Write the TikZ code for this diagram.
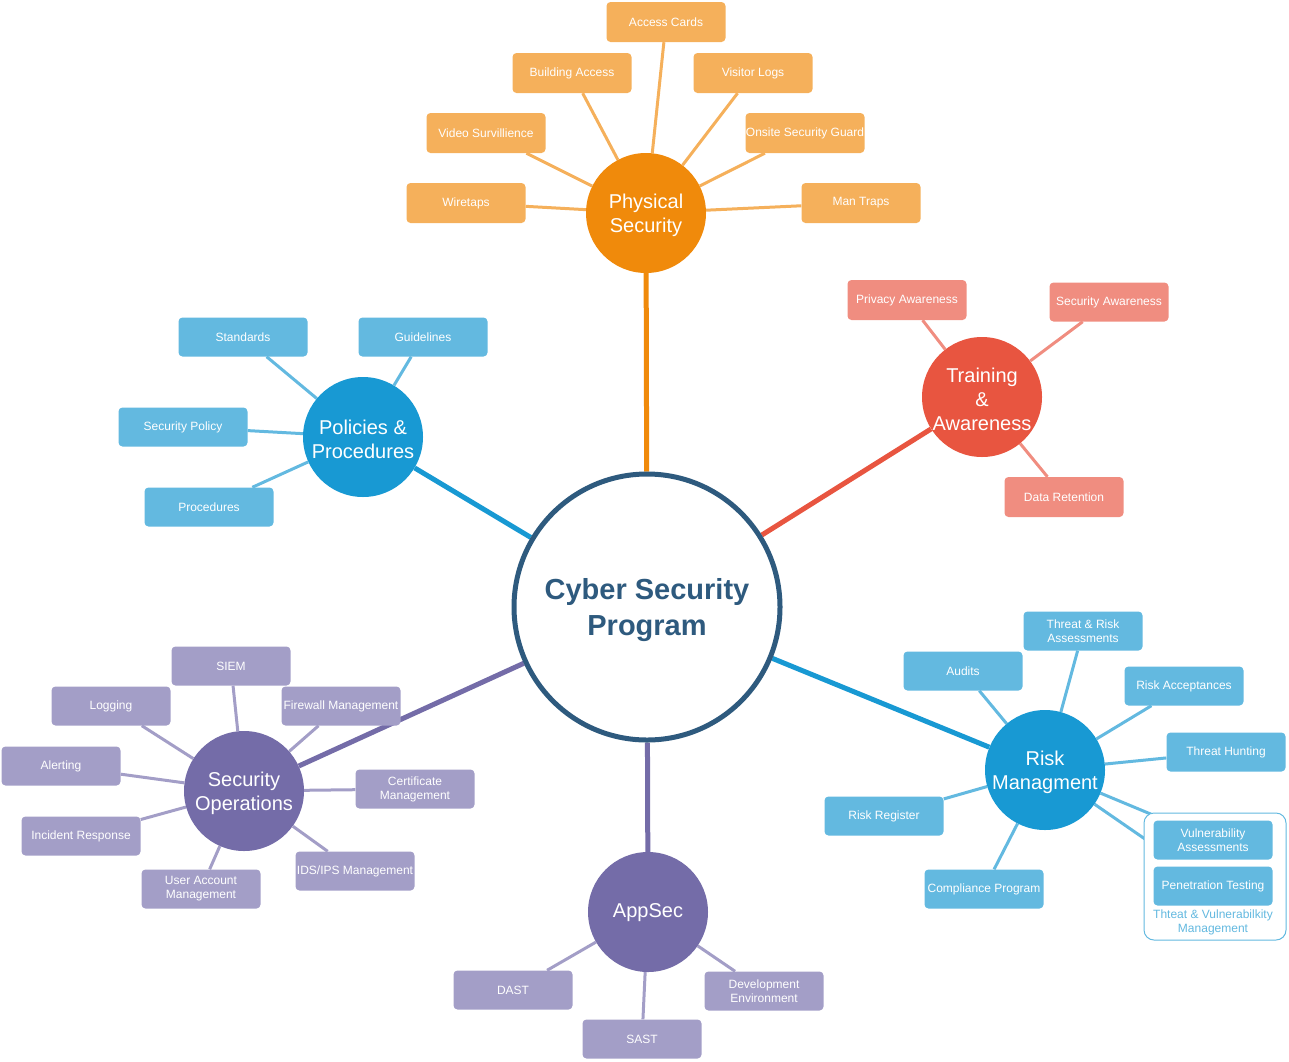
\documentclass[tikz,border=0pt]{standalone}
\usepackage{fontspec}
\setmainfont{Liberation Sans}
\usetikzlibrary{backgrounds}
\definecolor{orangeD}{HTML}{F08A0B}
\definecolor{orangeL}{HTML}{F5B05B}
\definecolor{blueD}{HTML}{1899D3}
\definecolor{blueL}{HTML}{63B9E0}
\definecolor{redD}{HTML}{E85540}
\definecolor{redL}{HTML}{F08D80}
\definecolor{purpleD}{HTML}{746CA8}
\definecolor{purpleL}{HTML}{A39EC7}
\definecolor{navy}{HTML}{2E5A7E}
\begin{document}
\begin{tikzpicture}[x=1pt,y=-1pt,
  hub/.style={circle, minimum size=120pt, inner sep=0pt},
  hubtext/.style={inner sep=0pt, text=white, align=center, font=\fontsize{20}{24}\selectfont},
  subbox/.style={rounded corners=4pt, minimum width=119pt, minimum height=39pt, inner sep=0pt,
    text=white, align=center, font=\fontsize{12}{14}\selectfont},
  mainline/.style={line width=5pt},
  subline/.style={line width=3pt},
  centernode/.style={circle, draw=navy, line width=5pt, fill=white, minimum size=266pt, inner sep=0pt},
  centertext/.style={inner sep=0pt, text=navy, align=center, font=\fontsize{29}{36}\selectfont\bfseries}
]
\useasboundingbox (0,0) rectangle (1289,1061);

% center
\node[centernode] (csp) at (647,607) {};
\node[centertext] (cspT) at (647,610) {Cyber Security\\Program};

% hubs
\node[hub, fill=orangeD] (phys) at (646,213) {};
\node[hub, fill=blueD] (pol) at (363,437) {};
\node[hub, fill=redD] (train) at (982,397) {};
\node[hub, fill=blueD] (risk) at (1045,770) {};
\node[hub, fill=purpleD] (secops) at (244,791) {};
\node[hub, fill=purpleD] (appsec) at (648,912) {};
\node[hubtext] (physT) at (646,215.5) {Physical\\Security};
\node[hubtext] (polT) at (363,439.5) {Policies \&\\Procedures};
\node[hubtext] (trainT) at (982,399) {Training\\\&\\Awareness};
\node[hubtext] (riskT) at (1045,772.5) {Risk\\Managment};
\node[hubtext] (secopsT) at (244,793.5) {Security\\Operations};
\node[hubtext] (appsecT) at (648,913) {AppSec};

% physical security boxes
\node[subbox, fill=orangeL, minimum height=40pt] (acc) at (666,22) {Access Cards};
\node[subbox, fill=orangeL, minimum height=40pt] (bld) at (572,73) {Building Access};
\node[subbox, fill=orangeL, minimum height=40pt] (vis) at (753,73) {Visitor Logs};
\node[subbox, fill=orangeL, minimum height=40pt] (vid) at (486,133) {Video Survillience};
\node[subbox, fill=orangeL, minimum height=40pt] (ons) at (805,133) {Onsite Security Guard};
\node[subbox, fill=orangeL, minimum height=40pt] (wir) at (466,203) {Wiretaps};
\node[subbox, fill=orangeL, minimum height=40pt] (man) at (861,203) {Man Traps};

% policies boxes
\node[subbox, fill=blueL, minimum width=129pt] (std) at (243,337) {Standards};
\node[subbox, fill=blueL, minimum width=129pt] (gui) at (423,337) {Guidelines};
\node[subbox, fill=blueL, minimum width=129pt] (spol) at (183,427) {Security Policy};
\node[subbox, fill=blueL, minimum width=129pt] (proc) at (209,507) {Procedures};

% training boxes
\node[subbox, fill=redL, minimum height=40pt] (priv) at (907,300) {Privacy Awareness};
\node[subbox, fill=redL] (secaw) at (1109,302) {Security Awareness};
\node[subbox, fill=redL, minimum height=40pt] (dret) at (1064,497) {Data Retention};

% risk boxes
\node[subbox, fill=blueL] (tra) at (1083,631) {Threat \& Risk\\Assessments};
\node[subbox, fill=blueL] (aud) at (963,671) {Audits};
\node[subbox, fill=blueL] (racc) at (1184,686) {Risk Acceptances};
\node[subbox, fill=blueL] (thunt) at (1226,752) {Threat Hunting};
\node[subbox, fill=blueL] (rreg) at (884,816) {Risk Register};
\node[subbox, fill=blueL] (comp) at (984,889) {Compliance Program};
\draw[draw=blueL, line width=1pt, fill=white, rounded corners=10pt] (1144,813) rectangle (1286,940);
\node[subbox, fill=blueL] (vuln) at (1213,840) {Vulnerability\\Assessments};
\node[subbox, fill=blueL] (pent) at (1213,886) {Penetration Testing};
\node[text=blueL, align=center, font=\fontsize{12}{14}\selectfont, inner sep=0pt] (grp) at (1213,922) {Thteat \& Vulnerabilkity\\Management};

% security operations boxes
\node[subbox, fill=purpleL] (siem) at (231,666) {SIEM};
\node[subbox, fill=purpleL] (logg) at (111,706) {Logging};
\node[subbox, fill=purpleL] (fw) at (341,706) {Firewall Management};
\node[subbox, fill=purpleL] (alert) at (61,766) {Alerting};
\node[subbox, fill=purpleL] (cert) at (415,789) {Certificate\\Management};
\node[subbox, fill=purpleL] (inc) at (81,836) {Incident Response};
\node[subbox, fill=purpleL] (ids) at (355,871) {IDS/IPS Management};
\node[subbox, fill=purpleL] (uam) at (201,889) {User Account\\Management};

% appsec boxes
\node[subbox, fill=purpleL] (dast) at (513,990) {DAST};
\node[subbox, fill=purpleL] (sast) at (642,1039) {SAST};
\node[subbox, fill=purpleL] (dev) at (764,991) {Development\\Environment};

\begin{scope}[on background layer]
  % main links
  \draw[mainline, orangeD] (csp) -- (phys);
  \draw[mainline, blueD] (csp) -- (pol);
  \draw[mainline, redD] (csp) -- (train);
  \draw[mainline, blueD] (csp) -- (risk);
  \draw[mainline, purpleD] (csp) -- (secops);
  \draw[mainline, purpleD] (csp) -- (appsec);
  % physical
  \foreach \n in {acc,bld,vis,vid,ons,wir,man} \draw[subline, orangeL] (phys) -- (\n);
  % policies
  \foreach \n in {std,gui,spol,proc} \draw[subline, blueL] (pol) -- (\n);
  % training
  \foreach \n in {priv,secaw,dret} \draw[subline, redL] (train) -- (\n);
  % risk
  \foreach \n in {tra,aud,racc,thunt,rreg,comp,vuln,pent} \draw[subline, blueL] (risk) -- (\n);
  % secops
  \foreach \n in {siem,logg,fw,alert,cert,inc,ids,uam} \draw[subline, purpleL] (secops) -- (\n);
  % appsec
  \foreach \n in {dast,sast,dev} \draw[subline, purpleL] (appsec) -- (\n);
\end{scope}
\end{tikzpicture}
\end{document}
